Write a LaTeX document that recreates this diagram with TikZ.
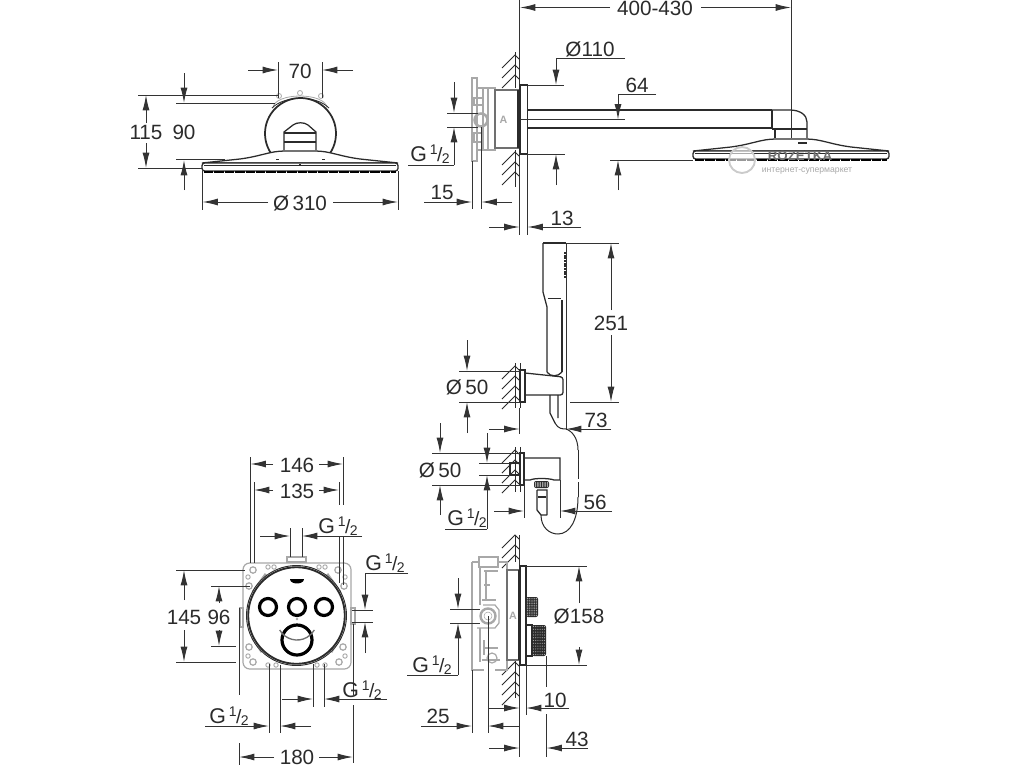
\documentclass[tikz,border=0pt]{standalone}
\usepackage{fontspec}
\setmainfont{Liberation Sans}
\usetikzlibrary{arrows.meta}
\definecolor{ink}{HTML}{2B2B2B}
\definecolor{dimink}{HTML}{333333}
\definecolor{soft}{HTML}{A8A8A8}
\definecolor{mid}{HTML}{707070}
\newcommand{\gfrac}{{\fontsize{16}{18}\selectfont G}\hspace{2.2pt}\raisebox{5.5pt}{\fontsize{10.5}{12}\selectfont 1}\hspace{-0.3pt}{\fontsize{14.5}{16}\selectfont /}\hspace{-0.5pt}\raisebox{-1pt}{\fontsize{10.5}{12}\selectfont 2}}
\tikzset{
  x=0.75pt,y=-0.75pt,
  lbl/.style={inner sep=0pt,text=ink,font=\fontsize{15.5}{18}\selectfont},
  ext/.style={draw=dimink,line width=0.75pt},
  dimarrow/.style={draw=dimink,line width=0.75pt,-{Latex[length=11.5pt,width=5.2pt]}},
  part/.style={draw=ink,line width=0.95pt},
  thin part/.style={draw=ink,line width=0.6pt},
  greypart/.style={draw=soft,line width=0.9pt},
  midpart/.style={draw=mid,line width=0.8pt},
  hatchline/.style={draw=ink,line width=0.75pt},
}
\newcommand{\hatchrun}[2]{\foreach \k in {1,...,#2}{\draw[hatchline] (502,{#1+(\k-1)*10+13}) -- (515,{#1+(\k-1)*10}) -- (519,{#1+(\k-1)*10+4});}}
\newcommand{\headview}{%
  \draw[part,fill=white] (202,163) -- (240,159) .. controls (262,156) and (270,151) .. (285,151) -- (315,151) .. controls (330,151) and (338,156) .. (360,159) -- (398,163) -- cycle;
  \draw[part,fill=white,rounded corners=2pt] (202,163) rectangle (398,171);
  \draw[thin part] (204,165) -- (396,165);
  \draw[draw=black,line width=2pt,dash pattern=on 7pt off 0.8pt] (204,172) -- (396,172);
}
\newcommand{\meshknob}[4]{%
  \fill[ink,rounded corners=1.5pt] (#1,#2) rectangle (#3,#4);
  \foreach \i in {0,...,5}{\foreach \j in {0,...,10}{%
    \pgfmathsetmacro{\dx}{#1+1.5+\i*(#3-#1-3)/5}
    \pgfmathsetmacro{\dy}{#2+1.5+\j*(#4-#2-3)/10}
    \fill[soft] (\dx,\dy) circle (0.45pt);}}
}
\begin{document}
\begin{tikzpicture}
\useasboundingbox (0,0) rectangle (1024,768);
\fill[white] (0,0) rectangle (1024,768);

% ===== top-left: head front view
\draw[greypart,line width=0.6pt] (273,108) .. controls (274,92) and (326,92) .. (327,108);
\draw[greypart,line width=0.6pt] (279,96) circle (2.5) (321,96) circle (2.5) (300,93) circle (2.5);
\draw[part,line width=1.3pt] (300.5,133.5) circle (35.5);
\draw[thin part] (272,108) .. controls (285,95) and (316,95) .. (329,108);
\draw[part] (284,150) -- (284,132) -- (293,125) .. controls (297,122) and (304,122) .. (308,125) -- (316,132) -- (316,150);
\draw[part] (284,133) -- (316,133) (284,142) -- (316,142);
\headview
\draw[thin part] (276,159) -- (279,159) (322,159) -- (325,159) (299,164) -- (301,164);
\draw[ext] (278,62) -- (278,98) (322,62) -- (322,98);
\draw[dimarrow] (248,70) -- (278,70);
\draw[dimarrow] (353,70) -- (322,70);
\node[lbl] (t70) at (300,71) {70};
\draw[ext] (138,95) -- (278,95) (176,103) -- (275,103) (176,159.5) -- (225,159.5) (138,168) -- (202,168);
\draw[dimarrow] (146,123) -- (146,95);
\draw[dimarrow] (146,143) -- (146,168);
\draw[dimarrow] (184,73) -- (184,103);
\draw[dimarrow] (184,190) -- (184,160);
\node[lbl] (t115) at (146,132) {115};
\node[lbl] (t90) at (184,132) {90};
\draw[ext] (202.5,171) -- (202.5,210) (398,171) -- (398,210);
\draw[dimarrow] (268,202) -- (202.5,202);
\draw[dimarrow] (333,202) -- (398,202);
\node[lbl] (t310) at (300,203) {Ø\,310};

% ===== top-right: side view
\draw[ext] (519.5,0) -- (519.5,235);
\draw[ext] (791,0) -- (791,138);
\hatchrun{55}{3}
\hatchrun{152}{3}
\draw[hatchline] (515,52) -- (515,88) (515,150) -- (515,187);
% mounting box
\draw[greypart] (472,78) rectangle (477,161);
\draw[greypart] (477,88) -- (483,88) (477,150) -- (483,150);
\draw[greypart] (474,98) rectangle (483,105) (474,133) rectangle (483,142);
\draw[greypart] (483,88) rectangle (495,150);
\draw[midpart,fill=white] (495,90) rectangle (518,148);
\draw[part] (518,90) -- (518,148);
\draw[greypart] (488,88) -- (488,150);
\draw[soft,line width=1.9pt] (481,120) circle (6.5);
\node[inner sep=0pt,text=soft,font=\bfseries\fontsize{8}{9}\selectfont] (a1) at (503.5,120) {A};
% plate + arm
\draw[part,fill=white] (520,85) rectangle (527.5,154);
\draw[part] (527.5,110) -- (772,110) (527.5,128) -- (772,128);
\draw[ext] (520,119.5) -- (625,119.5);
\draw[part] (772,110) -- (772,129);
\draw[part] (772,110) -- (790,110) .. controls (800,110) and (807,115) .. (807,122) -- (807,138);
\draw[part] (772,129) -- (807,129);
\draw[part] (775,129) -- (775,138);
\begin{scope}[shift={(491,-12)}]
  \headview
\end{scope}
\draw[part] (798,143) -- (807,143);
% 400-430
\draw[dimarrow] (610,7.5) -- (520,7.5);
\draw[dimarrow] (701,7.5) -- (791,7.5);
\node[lbl] (t400) at (655,8) {400-430};
% O110
\draw[ext] (527.5,85) -- (564,85) (527.5,154) -- (565,154);
\draw[ext] (625,58.5) -- (556,58.5);
\draw[dimarrow] (556,58.5) -- (556,85);
\draw[dimarrow] (556,185) -- (556,154);
\node[lbl] (t110) at (590,49) {Ø110};
% 64
\draw[ext] (656,94) -- (618,94);
\draw[dimarrow] (618,94) -- (618,119.5);
\draw[dimarrow] (618,190) -- (618,160);
\draw[ext] (610,160) -- (693,160);
\node[lbl] (t64) at (637,85) {64};
% G 1/2 top
\draw[ext] (447,113) -- (478,113) (447,127) -- (478,127);
\draw[dimarrow] (454,82) -- (454,113);
\draw[ext] (408,165) -- (454,165);
\draw[dimarrow] (454,165) -- (454,127);
\node[lbl] (g1) at (430,154) {\gfrac};
% 15
\draw[ext] (472,161) -- (472,209) (481.5,127) -- (481.5,209);
\draw[dimarrow] (424,202) -- (472,202);
\draw[dimarrow] (512,202) -- (481.5,202);
\node[lbl] (t15) at (442,192) {15};
% 13
\draw[ext] (527.5,154) -- (527.5,235);
\draw[dimarrow] (489,227) -- (519.5,227);
\draw[dimarrow] (581,227) -- (527.5,227);
\node[lbl] (t13) at (562,218) {13};

% ===== hand shower
\draw[part] (543,243) -- (566,243);
\draw[part] (543,243) -- (543,292) -- (547,307) -- (547,372);
\draw[part] (562,300) -- (562,372);
\draw[ext] (566,243) -- (566,430);
\draw[thin part] (548,298) -- (561,298);
\draw[draw=ink,line width=1.6pt,dash pattern=on 1.5pt off 0.5pt] (565,252) -- (565,278);
\draw[part] (547,372) .. controls (550,377) and (558,377) .. (562,372);
\draw[ext] (566,243) -- (619,243) (570,402) -- (619,402);
\draw[dimarrow] (611,310) -- (611,243);
\draw[dimarrow] (611,335) -- (611,402);
\node[lbl] (t251) at (611,323) {251};
% holder
\hatchrun{366}{4}
\draw[hatchline] (515,363) -- (515,408);
\draw[hatchline] (520,363) -- (520,408);
\draw[part] (520,370) rectangle (525,402);
\draw[part,rounded corners=2pt] (525,373) -- (563,377) -- (563,395) -- (525,395);
\draw[part] (550,395) -- (550,413) -- (555,423) (558,395) -- (558,418);
% O50 upper
\draw[ext] (459,371) -- (520,371) (459,402) -- (520,402);
\draw[dimarrow] (467,340) -- (467,371);
\draw[dimarrow] (467,433) -- (467,402);
\node[lbl] (t50a) at (467,387) {Ø\,50};
% hose
\draw[thin part,line width=0.75pt] (555,423) .. controls (558,429) and (563,429) .. (566,429) .. controls (572,431) and (578,438) .. (578,450);
\draw[thin part,line width=0.75pt,dash pattern=on 22pt off 2pt] (578,450) -- (578,497);
\draw[thin part,line width=0.75pt] (578,497) .. controls (578,520) and (570,534) .. (558,534) .. controls (550,534) and (541,528) .. (541,515);
% 73
\draw[dimarrow] (489,429) -- (519.5,429);
\draw[dimarrow] (611,429) -- (566,429);
\draw[ext] (519.5,408) -- (519.5,434);
\node[lbl] (t73) at (596,420) {73};
% outlet
\hatchrun{450}{4}
\draw[hatchline] (515,447) -- (515,492);
\draw[hatchline] (520,447) -- (520,492);
\draw[part] (520,453) rectangle (524,485);
\draw[part,line width=0.95pt] (510,463) rectangle (520,475);
\draw[part] (524,458) -- (560,458) -- (560,480) -- (554,480) .. controls (549,478) and (534,478) .. (530,480) -- (524,480);
\meshknob{534}{481}{549}{488}
\draw[part] (537,490) -- (547,490) -- (547,515) (537,490) -- (537,510) -- (541,515) -- (547,515);
\draw[draw=ink,line width=1.5pt] (538,497) -- (546,497);
\draw[ext] (432,453) -- (520,453) (432,485) -- (520,485) (479,463) -- (510,463) (479,475) -- (510,475);
\draw[dimarrow] (440,423) -- (440,453);
\draw[dimarrow] (440,515) -- (440,485);
\node[lbl] (t50b) at (440,470) {Ø\,50};
\draw[dimarrow] (487,433) -- (487,463);
\draw[ext] (445,529) -- (487,529);
\draw[dimarrow] (487,529) -- (487,475);
\node[lbl] (g2) at (467,518) {\gfrac};
\draw[ext] (524,485) -- (524,518) (560,480) -- (560,518);
\draw[dimarrow] (494,511) -- (524,511);
\draw[dimarrow] (612,511) -- (560,511);
\node[lbl] (t56) at (595,502) {56};

% ===== lower side view
\draw[ext] (519.5,535) -- (519.5,757);
\hatchrun{535}{3}
\hatchrun{662}{4}
\draw[hatchline] (515,535) -- (515,562) (515,660) -- (515,698);
\draw[greypart] (472,562) -- (472,670) -- (484,670) (495,670) -- (507,670) -- (507,570);
\draw[greypart] (472,562) -- (479,562) (498,562) -- (507,562) -- (507,570);
\draw[greypart] (479,557) rectangle (498,567);
\draw[greypart] (480,567) -- (480,605) (480,628) -- (480,662);
\draw[greypart] (484,571) -- (498,571) (486,571) -- (486,600) (484,585) -- (490,585) (482,600) -- (496,600);
\draw[greypart] (484,640) -- (484,655) (484,648) -- (498,648) (482,660) -- (500,660);
\draw[greypart] (492,658) circle (5);
\draw[greypart] (483,605) -- (495,605) -- (499,610) -- (499,623) -- (495,628) -- (477,628);
\draw[soft,line width=1.8pt] (488,616) circle (7.5);
\draw[soft] (488,616) circle (4);
\draw[midpart] (507,570) rectangle (518.5,660);
\draw[draw=ink,line width=1.3pt] (518.5,570) -- (518.5,660);
\node[inner sep=0pt,text=soft,font=\bfseries\fontsize{8}{9}\selectfont] (a2) at (513,616) {A};
\draw[part] (520,566) rectangle (526,665);
\meshknob{526}{597}{538}{617}
\draw[part] (526,625) rectangle (532,656);
\meshknob{532}{625}{546}{656}
\draw[ext] (526,566) -- (587,566) (526,665) -- (587,665);
\draw[dimarrow] (579,603) -- (579,566);
\draw[dimarrow] (579,647) -- (579,665);
\node[lbl] (t158) at (579,616) {Ø158};
\draw[ext] (450,609) -- (480,609) (450,623) -- (480,623);
\draw[dimarrow] (458,578) -- (458,609);
\draw[ext] (407,675) -- (458,675);
\draw[dimarrow] (458,675) -- (458,623);
\node[lbl] (g3) at (432,665) {\gfrac};
\draw[ext] (472,670) -- (472,733) (488,616) -- (488,733);
\draw[dimarrow] (421,726) -- (472,726);
\draw[dimarrow] (519.5,726) -- (488,726);
\node[lbl] (t25) at (438,716) {25};
\draw[ext] (526,665) -- (526,715);
\draw[dimarrow] (489,708) -- (519.5,708);
\draw[dimarrow] (569,708) -- (526,708);
\node[lbl] (t10) at (555,700) {10};
\draw[ext] (546.5,656) -- (546.5,687) (546.5,714) -- (546.5,757);
\draw[dimarrow] (489,748) -- (519.5,748);
\draw[dimarrow] (588,748) -- (546.5,748);
\node[lbl] (t43) at (577,739) {43};

% ===== front view of thermostat
\draw[greypart,rounded corners=5pt] (243,563) rectangle (351,669);
\draw[greypart,fill=white] (287,562) rectangle (306,557);
\draw[greypart] (240,608) rectangle (243,627) (351,608) rectangle (355,624);
\foreach \a/\b in {268/567,274/567,319/567,325/567,248/577,345/577,248/656,345/656,268/665,276/665,317/665,325/665}
  \draw[greypart,line width=0.7pt] (\a,\b) circle (2.2);
\foreach \a/\b in {253/570,338/570,249/586,344/586,253/662,339/662,249/647,343/647}
  \draw[greypart] (\a,\b) circle (3.2);
\draw[soft,line width=2.2pt] (253,592) -- (266,574) (340,592) -- (327,574) (253,638) -- (262,652) (340,638) -- (331,652);
\draw[draw=ink,fill=white,line width=0.7pt] (296.5,615.5) circle (50);
\draw[draw=ink,line width=1.4pt] (296.5,615.5) circle (48.3);
\fill[black] (290,579) -- (304,579) .. controls (304,585) and (290,585) .. (290,579) -- cycle;
\foreach \a in {268,297,324}
  \draw[draw=black,line width=2.4pt] (\a,607) circle (8.5);
\draw[draw=black,line width=2.4pt] (297,640) circle (15);
\draw[draw=mid,line width=1pt] (279.7,630) arc (150:30:20);
\fill[soft] (297,619) circle (1.3);
% 146 / 135
\draw[ext] (250.5,457) -- (250.5,563) (254,482) -- (254,563);
\draw[ext] (343,457) -- (343,505) (339,482) -- (339,505) (343,537) -- (343,585) (339,537) -- (339,583);
\draw[dimarrow] (273,464) -- (250.5,464);
\draw[dimarrow] (319,464) -- (343,464);
\node[lbl] (t146) at (297,465) {146};
\draw[dimarrow] (273,490) -- (254,490);
\draw[dimarrow] (319,490) -- (339,490);
\node[lbl] (t135) at (297,491) {135};
% G 1/2 upper
\draw[ext] (290,528) -- (290,557) (302,528) -- (302,557);
\draw[dimarrow] (260,536) -- (290,536);
\draw[dimarrow] (362,536) -- (302,536);
\node[lbl] (g4) at (338,526) {\gfrac};
% G 1/2 right
\draw[ext] (408,573) -- (365,573);
\draw[dimarrow] (365,573) -- (365,610);
\draw[ext] (352,610) -- (373,610) (352,622) -- (373,622);
\draw[dimarrow] (365,653) -- (365,622);
\node[lbl] (g5) at (385,563) {\gfrac};
% 145 / 96
\draw[ext] (176,570) -- (245,570) (176,662) -- (236,662) (211,586) -- (250,586) (211,646) -- (236,646);
\draw[dimarrow] (184,600) -- (184,570);
\draw[dimarrow] (184,630) -- (184,662);
\draw[dimarrow] (219,603) -- (219,586);
\draw[dimarrow] (219,630) -- (219,646);
\node[lbl] (t145) at (184,617) {145};
\node[lbl] (t96) at (219,617) {96};
% 180
\draw[ext] (239,608) -- (239,695) (239,743) -- (239,765) (353,624) -- (353,695) (353,705) -- (353,763);
\draw[dimarrow] (274,757) -- (239,757);
\draw[dimarrow] (319,757) -- (353,757);
\node[lbl] (t180) at (297,757) {180};
% G 1/2 bottom
\draw[ext] (313,664) -- (313,707) (324,664) -- (324,707);
\draw[dimarrow] (387,699) -- (324,699);
\draw[dimarrow] (282,699) -- (313,699);
\node[lbl] (g6) at (362,690) {\gfrac};
\draw[ext] (269,664) -- (269,733) (280,665) -- (280,733);
\draw[dimarrow] (205,726) -- (269,726);
\draw[dimarrow] (311,726) -- (280,726);
\node[lbl] (g7) at (229,716) {\gfrac};

% ===== watermark
\draw[draw=soft!60,fill=white,fill opacity=0.6,line width=1.4pt] (742,160) circle (13);
\node[inner sep=0pt,text=mid,font=\bfseries\fontsize{10}{12}\selectfont] (wm1) at (800,156) {ROZETKA};
\node[inner sep=0pt,text=soft,font=\fontsize{6.5}{8}\selectfont] (wm2) at (807,171) {интернет-супермаркет};
\end{tikzpicture}
\end{document}
